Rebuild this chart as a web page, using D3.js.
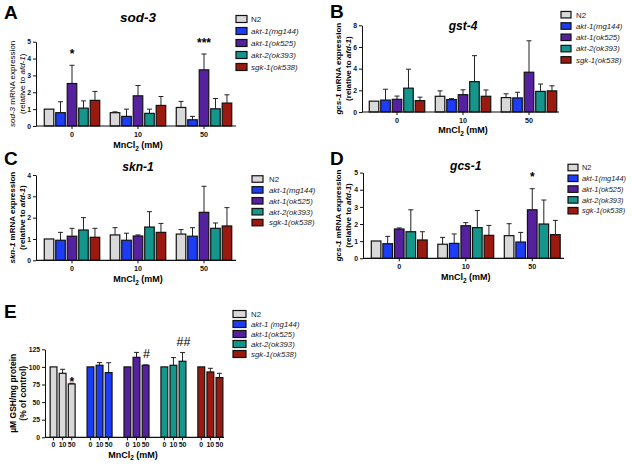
<!DOCTYPE html>
<html><head><meta charset="utf-8">
<script src="https://cdn.jsdelivr.net/npm/d3@7"></script>
<style>
body{margin:0;background:#fff}
svg{display:block;font-family:"Liberation Sans",Arial,sans-serif}
</style>
</head><body><svg id="c" width="632" height="466"></svg>
<script>
// ---------------- data ----------------
const doses = ["0", "10", "50"];
const strains = ["N2", "akt-1(mg144)", "akt-1(ok525)", "akt-2(ok393)", "sgk-1(ok538)"];
const strainsE = ["N2", "akt-1 (mg144)", "akt-1(ok525)", "akt-2(ok393)", "sgk-1(ok538)"];
const colors = ["#d9d9d9", "#1d3cf5", "#55219e", "#15968c", "#9a1a10"];

// rows = strain, columns = dose (0, 10, 50)
const sod3Mean = [[1.0, 0.79, 1.1], [0.79, 0.57, 0.37], [2.52, 1.79, 3.33], [1.06, 0.75, 1.02], [1.52, 1.22, 1.36]];
const sod3Err  = [[0.0, 0.05, 0.36], [0.65, 0.43, 0.2], [1.08, 0.61, 0.94], [0.43, 0.25, 0.61], [0.53, 0.53, 0.49]];

const gst4Mean = [[1.0, 1.45, 1.33], [1.1, 1.15, 1.3], [1.17, 1.6, 3.67], [2.2, 2.8, 1.9], [1.05, 1.45, 1.95]];
const gst4Err  = [[0.0, 0.5, 0.35], [1.0, 0.08, 0.52], [0.3, 0.45, 2.9], [1.75, 2.4, 0.68], [0.32, 0.58, 0.47]];

const skn1Mean = [[1.0, 1.19, 1.23], [0.94, 0.94, 1.13], [1.13, 1.14, 2.25], [1.42, 1.56, 1.5], [1.08, 1.31, 1.61]];
const skn1Err  = [[0.0, 0.34, 0.21], [0.37, 0.33, 0.4], [0.37, 0.05, 1.22], [0.58, 0.72, 0.25], [0.42, 0.42, 0.86]];

const gcs1Mean = [[1.01, 0.82, 1.32], [0.85, 0.87, 0.95], [1.71, 1.9, 2.83], [1.55, 1.79, 2.0], [1.07, 1.34, 1.38]];
const gcs1Err  = [[0.0, 0.4, 0.7], [0.43, 0.55, 0.56], [0.06, 0.18, 1.23], [1.28, 1.0, 1.4], [0.48, 0.58, 0.83]];

const gshMean = [[100, 90.9, 75.8], [100, 102.3, 91.9], [100, 113.6, 102.3], [100, 102.3, 108], [100, 92.8, 84.8]];
const gshErr  = [[0, 5.7, 1], [0, 3.8, 14], [0, 7, 0.5], [0, 10.9, 12.3], [0, 5.2, 6.1]];

const ticksA = [0, 1, 2, 3, 4, 5];
const ticksB = [0, 2, 4, 6, 8];
const ticksC = [0, 1, 2, 3, 4];
const ticksD = [0, 1, 2, 3, 4, 5];
const ticksE = [0, 25, 50, 75, 100, 125];

const annotA = [{strain: "akt-1(ok525)", dose: "0", label: "*"}, {strain: "akt-1(ok525)", dose: "50", label: "***"}];
const annotD = [{strain: "akt-1(ok525)", dose: "50", label: "*"}];
const annotE = [{strain: "N2", dose: "50", label: "*"}, {strain: "akt-1(ok525)", dose: "50", label: "#"}, {strain: "akt-2(ok393)", dose: "50", label: "##"}];

// ---------------- drawing ----------------
const svg = d3.select("#c");
const fmt = d3.format("d");

function mnLabel(g, x, y) {
  const t = g.append("text").attr("x", x).attr("y", y).attr("text-anchor", "middle")
    .attr("font-size", 9).attr("font-weight", "bold");
  t.append("tspan").text("MnCl");
  t.append("tspan").attr("font-size", 6.5).attr("dy", 2.5).text("2");
  t.append("tspan").attr("dy", -2.5).text(" (mM)");
}

function yLabel(g, x1, x2, yc, parts1, parts2, size, weight) {
  [[x1, parts1], [x2, parts2]].forEach(([x, parts]) => {
    const t = g.append("text").attr("transform", `translate(${x},${yc}) rotate(-90)`)
      .attr("text-anchor", "middle").attr("font-size", size).attr("font-weight", weight);
    parts.forEach(p => t.append("tspan").attr("font-style", p[1] ? "italic" : "normal").text(p[0]));
  });
}

function legend(g, labels, o) {
  labels.forEach((s, i) => {
    const yy = o.y + i * o.dy;
    g.append("rect").attr("x", o.x).attr("y", yy - o.h / 2).attr("width", o.w).attr("height", o.h)
      .attr("fill", colors[i]).attr("stroke", "#111").attr("stroke-width", 1.2);
    g.append("text").attr("x", o.tx).attr("y", yy + o.fs * 0.36).attr("font-size", o.fs)
      .attr("font-style", i === 0 ? "normal" : "italic").attr("fill", "#222").text(s);
  });
}

function panelLetter(x, y, l) {
  svg.append("text").attr("x", x).attr("y", y).attr("font-size", 19).attr("font-weight", "bold").text(l);
}

function styleAxis(sel) {
  sel.selectAll("path,line").attr("stroke", "#111").attr("stroke-width", 1);
  sel.selectAll("text").attr("fill", "#111").attr("font-family", "Liberation Sans, Arial, sans-serif")
    .attr("font-weight", "bold").attr("font-size", 6.8);
}

function grouped(o) {
  const g = svg.append("g");
  const x0 = d3.scaleBand().domain(doses).range(o.xr).paddingInner(0.13).paddingOuter(0.065);
  const x1 = d3.scaleBand().domain(strains).range([0, x0.bandwidth()]).paddingInner(0.17).paddingOuter(0.085);
  const y = d3.scaleLinear().domain([0, o.ticks[o.ticks.length - 1]]).range([o.y0, o.yTop]);
  const bw = x1.bandwidth();
  strains.forEach((s, si) => doses.forEach((d, di) => {
    const v = o.mean[si][di], e = o.err[si][di];
    const bx = x0(d) + x1(s);
    if (e > 0) {
      g.append("line").attr("x1", bx + bw / 2).attr("x2", bx + bw / 2).attr("y1", y(v)).attr("y2", y(v + e))
        .attr("stroke", "#222").attr("stroke-width", 1);
      g.append("line").attr("x1", bx + bw / 2 - 2.5).attr("x2", bx + bw / 2 + 2.5).attr("y1", y(v + e)).attr("y2", y(v + e))
        .attr("stroke", "#222").attr("stroke-width", 1);
    }
    g.append("rect").attr("x", bx).attr("y", y(v)).attr("width", bw).attr("height", o.y0 - y(v))
      .attr("fill", colors[si]).attr("stroke", "#111").attr("stroke-width", 1.2);
  }));
  // axes
  const ya = g.append("g").attr("transform", `translate(${o.ax},0)`)
    .call(d3.axisLeft(y).tickValues(o.ticks).tickFormat(fmt).tickSize(3).tickSizeOuter(0).tickPadding(2));
  styleAxis(ya);
  const xa = g.append("g").attr("transform", `translate(0,${o.y0})`)
    .call(d3.axisBottom(x0).tickSize(3).tickSizeOuter(0).tickPadding(2.5));
  xa.select(".domain").remove();
  styleAxis(xa);
  xa.selectAll("text").attr("font-size", 7.2);
  g.append("line").attr("x1", o.ax).attr("x2", o.xend).attr("y1", o.y0).attr("y2", o.y0)
    .attr("stroke", "#111").attr("stroke-width", 1.2);
  // annotations
  (o.annot || []).forEach(a => {
    const si = strains.indexOf(a.strain), di = doses.indexOf(a.dose);
    const top = y(o.mean[si][di] + o.err[si][di]);
    g.append("text").attr("x", x0(a.dose) + x1(a.strain) + bw / 2).attr("y", top - 7.5)
      .attr("text-anchor", "middle").attr("font-size", 12).attr("font-weight", "bold").text(a.label);
  });
  // title, x label
  const cx = (o.xr[0] + o.xr[1]) / 2;
  g.append("text").attr("x", cx).attr("y", o.titleY).attr("text-anchor", "middle")
    .attr("font-size", o.titleSize).attr("font-weight", "bold").attr("font-style", "italic").text(o.title);
  mnLabel(g, cx, o.xlabY);
  yLabel(g, o.ylx[0], o.ylx[1], (o.y0 + o.yTop) / 2, o.yl1, [["(relative to ", 0], ["afd-1", 1], [")", 0]], 8, o.ylw);
  legend(g, strains, o.leg);
}

panelLetter(4, 19, "A");
grouped({mean: sod3Mean, err: sod3Err, ticks: ticksA, xr: [39, 237], xend: 236, ax: 36, y0: 126, yTop: 41.7,
  title: "sod-3", titleY: 22, titleSize: 13.5, xlabY: 148, ylx: [15, 25],
  yl1: [["sod-3", 1], [" mRNA expression", 0]], ylw: "normal", annot: annotA,
  leg: {x: 236, y: 19, dy: 12, w: 11, h: 7, tx: 251, fs: 8}});

panelLetter(330, 18, "B");
grouped({mean: gst4Mean, err: gst4Err, ticks: ticksB, xr: [364, 562], xend: 559, ax: 362, y0: 112, yTop: 25.3,
  title: "gst-4", titleY: 30, titleSize: 12, xlabY: 133, ylx: [341, 351],
  yl1: [["gcs-1", 1], [" mRNA expression", 0]], ylw: "bold",
  leg: {x: 561, y: 14.7, dy: 11.3, w: 10, h: 6.5, tx: 576, fs: 7.8}});

panelLetter(4, 165, "C");
grouped({mean: skn1Mean, err: skn1Err, ticks: ticksC, xr: [39, 237], xend: 236, ax: 36, y0: 260.3, yTop: 175,
  title: "skn-1", titleY: 171, titleSize: 12, xlabY: 282, ylx: [15, 25],
  yl1: [["skn-1", 1], [" mRNA expression", 0]], ylw: "bold",
  leg: {x: 252, y: 179, dy: 10.9, w: 11, h: 6.5, tx: 269, fs: 7.8}});

panelLetter(330, 165, "D");
grouped({mean: gcs1Mean, err: gcs1Err, ticks: ticksD, xr: [366, 565.5], xend: 564, ax: 363, y0: 258.3, yTop: 172.6,
  title: "gcs-1", titleY: 170, titleSize: 12, xlabY: 280, ylx: [341, 351],
  yl1: [["gcs-1", 1], [" mRNA expression", 0]], ylw: "bold", annot: annotD,
  leg: {x: 568, y: 167.5, dy: 10.8, w: 10, h: 6.5, tx: 582, fs: 7.4}});

// ---------------- panel E ----------------
panelLetter(4, 318, "E");
(function () {
  const g = svg.append("g");
  const y0 = 437.3, yTop = 349.3, ax = 45;
  const xs = d3.scaleBand().domain(strains).range([46, 227]).paddingInner(0.2).paddingOuter(0.05);
  const xd = d3.scaleBand().domain(doses).range([0, xs.bandwidth()]).padding(0.25);
  const y = d3.scaleLinear().domain([0, 125]).range([y0, yTop]);
  const bw = xd.bandwidth();
  strains.forEach((s, si) => doses.forEach((d, di) => {
    const v = gshMean[si][di], e = gshErr[si][di];
    const bx = xs(s) + xd(d);
    if (e > 0) {
      g.append("line").attr("x1", bx + bw / 2).attr("x2", bx + bw / 2).attr("y1", y(v)).attr("y2", y(v + e))
        .attr("stroke", "#222").attr("stroke-width", 1);
      g.append("line").attr("x1", bx + bw / 2 - 2.5).attr("x2", bx + bw / 2 + 2.5).attr("y1", y(v + e)).attr("y2", y(v + e))
        .attr("stroke", "#222").attr("stroke-width", 1);
    }
    g.append("rect").attr("x", bx).attr("y", y(v)).attr("width", bw).attr("height", y0 - y(v))
      .attr("fill", colors[si]).attr("stroke", "#111").attr("stroke-width", 1.2);
    // tick + dose label under each bar
    g.append("line").attr("x1", bx + bw / 2).attr("x2", bx + bw / 2).attr("y1", y0).attr("y2", y0 + 3)
      .attr("stroke", "#111");
    g.append("text").attr("x", bx + bw / 2).attr("y", y0 + 10).attr("text-anchor", "middle")
      .attr("font-size", 7).attr("font-weight", "bold").attr("fill", "#111").text(d);
  }));
  const ya = g.append("g").attr("transform", `translate(${ax},0)`)
    .call(d3.axisLeft(y).tickValues(ticksE).tickFormat(fmt).tickSize(3).tickSizeOuter(0).tickPadding(2));
  styleAxis(ya);
  g.append("line").attr("x1", ax).attr("x2", 224).attr("y1", y0).attr("y2", y0).attr("stroke", "#111").attr("stroke-width", 1.2);
  annotE.forEach(a => {
    const si = strains.indexOf(a.strain), di = doses.indexOf(a.dose);
    const top = y(gshMean[si][di] + gshErr[si][di]);
    const isStar = a.label === "*";
    g.append("text").attr("x", xs(a.strain) + xd(a.dose) + bw / 2 + (isStar ? 0 : 1)).attr("y", isStar ? top + 3 : top - 6.5)
      .attr("text-anchor", "middle").attr("font-size", isStar ? 12 : 12.5).attr("font-weight", isStar ? "bold" : "normal").text(a.label);
  });
  mnLabel(g, 133, 457.5);
  yLabel(g, 16, 26, (y0 + yTop) / 2, [["µM GSH/mg protein", 0]], [["(% of control)", 0]], 8.5, "bold");
  legend(g, strainsE, {x: 233, y: 314, dy: 10, w: 13, h: 7, tx: 251, fs: 7.8});
})();
</script>
</body></html>
